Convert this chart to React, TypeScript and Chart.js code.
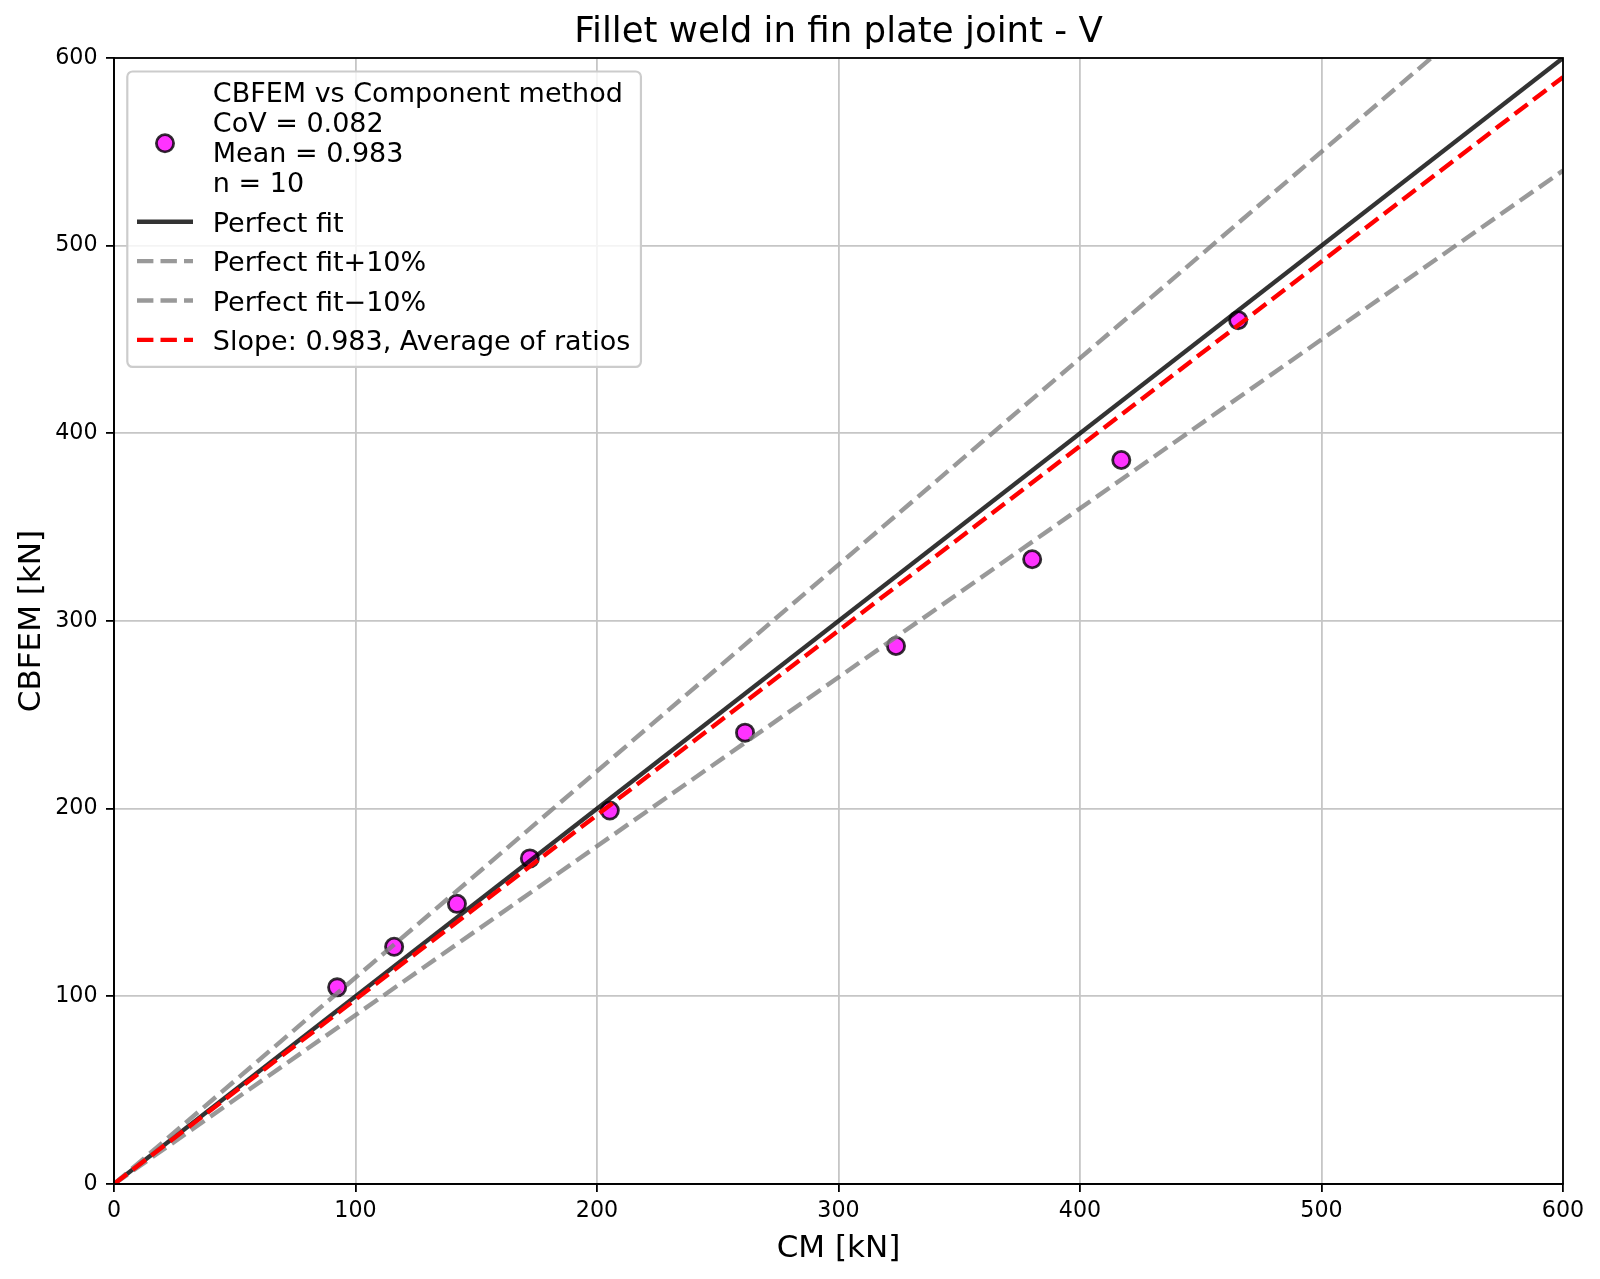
import React, { useEffect, useRef } from 'react';
import { Chart, registerables } from 'chart.js';

Chart.register(...registerables);

// CM resistance vs CBFEM resistance [kN]
const cmValues = [92.4, 116.0, 142.0, 172.2, 205.3, 261.3, 323.8, 380.2, 417.1, 465.5];
const cbfemValues = [104.8, 126.4, 149.3, 173.5, 199.0, 240.5, 286.7, 332.9, 385.8, 460.3];

// reference lines (end points)
const refX = [0, 600];
const perfectFitY = [0, 600];
const plusTenY = [0, 660];
const minusTenY = [0, 540];
const slopeY = [0, 589.8];

const xTicks = [0, 100, 200, 300, 400, 500, 600];
const yTicks = [0, 100, 200, 300, 400, 500, 600];

const titleText = 'Fillet weld in fin plate joint - V';
const xTitle = 'CM [kN]';
const yTitle = 'CBFEM [kN]';
const scatterLabel = ['CBFEM vs Component method', 'CoV = 0.082', 'Mean = 0.983', 'n = 10'];
const lineLabels = ['Perfect fit', 'Perfect fit+10%', 'Perfect fit\u221210%', 'Slope: 0.983, Average of ratios'];

const FONT = '"DejaVu Sans", sans-serif';
const MARKER_FILL = 'rgba(255,0,255,0.8)';
const MARKER_EDGE = 'rgba(0,0,0,0.8)';
const MARKER_R = 8.6;
const MARKER_EDGE_W = 2.8;
const LINE_W = 4.4;
const DASH = [16.4, 7.1];
const lineStyles = [
    { color: 'rgba(0,0,0,0.8)', dash: [] as number[] },
    { color: 'rgba(128,128,128,0.8)', dash: DASH },
    { color: 'rgba(128,128,128,0.8)', dash: DASH },
    { color: '#ff0000', dash: DASH },
];

const toPoints = (xs: number[], ys: number[]) => xs.map((x, i) => ({ x, y: ys[i] }));

const decorPlugin = {
    id: 'decor',
    afterDatasetsDraw(chart: any) {
        const { ctx, chartArea: a } = chart;
        ctx.save();
        ctx.strokeStyle = '#000';
        ctx.lineWidth = 1.8;
        ctx.strokeRect(a.left, a.top, a.right - a.left, a.bottom - a.top);
        ctx.restore();
    },
    afterDraw(chart: any) {
        const { ctx, chartArea: a } = chart;
        const cx = (a.left + a.right) / 2;
        const cy = (a.top + a.bottom) / 2;
        ctx.save();
        ctx.fillStyle = '#000';
        ctx.textBaseline = 'alphabetic';

        // title
        ctx.font = `35.6px ${FONT}`;
        ctx.textAlign = 'center';
        ctx.fillText(titleText, cx, 42);

        // axis titles
        ctx.font = `31px ${FONT}`;
        ctx.fillText(xTitle, cx, 1256.7);
        ctx.save();
        ctx.translate(40, cy);
        ctx.rotate(-Math.PI / 2);
        ctx.fillText(yTitle, 0, 0);
        ctx.restore();

        // legend
        ctx.font = `27px ${FONT}`;
        ctx.textAlign = 'left';
        const boxL = 127.3;
        const boxT = 71.5;
        const textX = 212.8;
        const handleL = 137;
        const handleR = 193;
        const firstBase = 101.7;
        const blockStep = 30;
        const entryStep = 39.4;
        const lineBases = lineLabels.map((_, i) => firstBase + blockStep * 3 + 40 + entryStep * i);
        const allTexts = [...scatterLabel, ...lineLabels];
        const maxW = Math.max(...allTexts.map((t) => ctx.measureText(t).width));
        const boxR = textX + maxW + 10.7;
        const boxB = lineBases[lineBases.length - 1] + 6.3 + 10.7;

        ctx.beginPath();
        ctx.roundRect(boxL, boxT, boxR - boxL, boxB - boxT, 5.3);
        ctx.fillStyle = 'rgba(255,255,255,0.8)';
        ctx.fill();
        ctx.strokeStyle = '#cccccc';
        ctx.lineWidth = 2.2;
        ctx.stroke();

        ctx.fillStyle = '#000';
        scatterLabel.forEach((t, i) => ctx.fillText(t, textX, firstBase + blockStep * i));
        ctx.beginPath();
        ctx.arc(165, 143.3, MARKER_R, 0, Math.PI * 2);
        ctx.fillStyle = MARKER_FILL;
        ctx.fill();
        ctx.strokeStyle = MARKER_EDGE;
        ctx.lineWidth = MARKER_EDGE_W;
        ctx.stroke();

        lineLabels.forEach((t, i) => {
            const base = lineBases[i];
            ctx.fillStyle = '#000';
            ctx.fillText(t, textX, base);
            ctx.beginPath();
            ctx.setLineDash(lineStyles[i].dash);
            ctx.strokeStyle = lineStyles[i].color;
            ctx.lineWidth = LINE_W;
            ctx.lineCap = 'butt';
            ctx.moveTo(handleL, base - 10);
            ctx.lineTo(handleR, base - 10);
            ctx.stroke();
            ctx.setLineDash([]);
        });
        ctx.restore();
    },
};

const App: React.FC = () => {
    const canvasRef = useRef<HTMLCanvasElement | null>(null);
    const chartRef = useRef<Chart | null>(null);

    useEffect(() => {
        document.body.style.margin = '0';
        if (!canvasRef.current) return;
        const ctx = canvasRef.current.getContext('2d');
        if (chartRef.current) chartRef.current.destroy();

        const lineSeries = [perfectFitY, plusTenY, minusTenY, slopeY];

        chartRef.current = new Chart(ctx!, {
            type: 'scatter',
            data: {
                datasets: [
                    {
                        label: scatterLabel.join('\n'),
                        data: toPoints(cmValues, cbfemValues),
                        backgroundColor: MARKER_FILL,
                        borderColor: MARKER_EDGE,
                        borderWidth: MARKER_EDGE_W,
                        pointRadius: MARKER_R,
                        order: 5,
                    },
                    ...lineSeries.map((ys, i) => ({
                        label: lineLabels[i],
                        data: toPoints(refX, ys),
                        showLine: true,
                        borderColor: lineStyles[i].color,
                        borderDash: lineStyles[i].dash,
                        borderWidth: LINE_W,
                        pointRadius: 0,
                        clip: 0,
                        order: 4 - i,
                    })),
                ],
            },
            options: {
                animation: false,
                responsive: false,
                devicePixelRatio: 1,
                layout: { padding: { top: 58, right: 37, left: 0, bottom: 0 } },
                plugins: {
                    legend: { display: false },
                    title: { display: false },
                    tooltip: { enabled: false },
                },
                scales: {
                    x: {
                        type: 'linear',
                        min: 0,
                        max: 600,
                        afterFit: (scale: any) => { scale.height = 95; },
                        afterBuildTicks: (scale: any) => { scale.ticks = xTicks.map((v) => ({ value: v })); },
                        ticks: {
                            autoSkip: false,
                            color: '#000',
                            padding: 6,
                            font: { family: FONT, size: 22.2 },
                        },
                        grid: {
                            color: '#c6c6c6',
                            lineWidth: 1.8,
                            tickColor: '#000',
                            tickWidth: 1.8,
                            tickLength: 8,
                        },
                        border: { color: '#000', width: 1.8 },
                    },
                    y: {
                        type: 'linear',
                        min: 0,
                        max: 600,
                        afterFit: (scale: any) => { scale.width = 114; },
                        afterBuildTicks: (scale: any) => { scale.ticks = yTicks.map((v) => ({ value: v })); },
                        ticks: {
                            autoSkip: false,
                            color: '#000',
                            padding: 8.5,
                            font: { family: FONT, size: 22.2 },
                        },
                        grid: {
                            color: '#c6c6c6',
                            lineWidth: 1.8,
                            tickColor: '#000',
                            tickWidth: 1.8,
                            tickLength: 8,
                        },
                        border: { color: '#000', width: 1.8 },
                    },
                },
            },
            plugins: [decorPlugin],
        });

        return () => {
            if (chartRef.current) {
                chartRef.current.destroy();
                chartRef.current = null;
            }
        };
    }, []);

    return (
        <div style={{ width: 1600, height: 1279, background: '#fff' }}>
            <canvas ref={canvasRef} width={1600} height={1279} style={{ display: 'block' }}></canvas>
        </div>
    );
};

export default App;
